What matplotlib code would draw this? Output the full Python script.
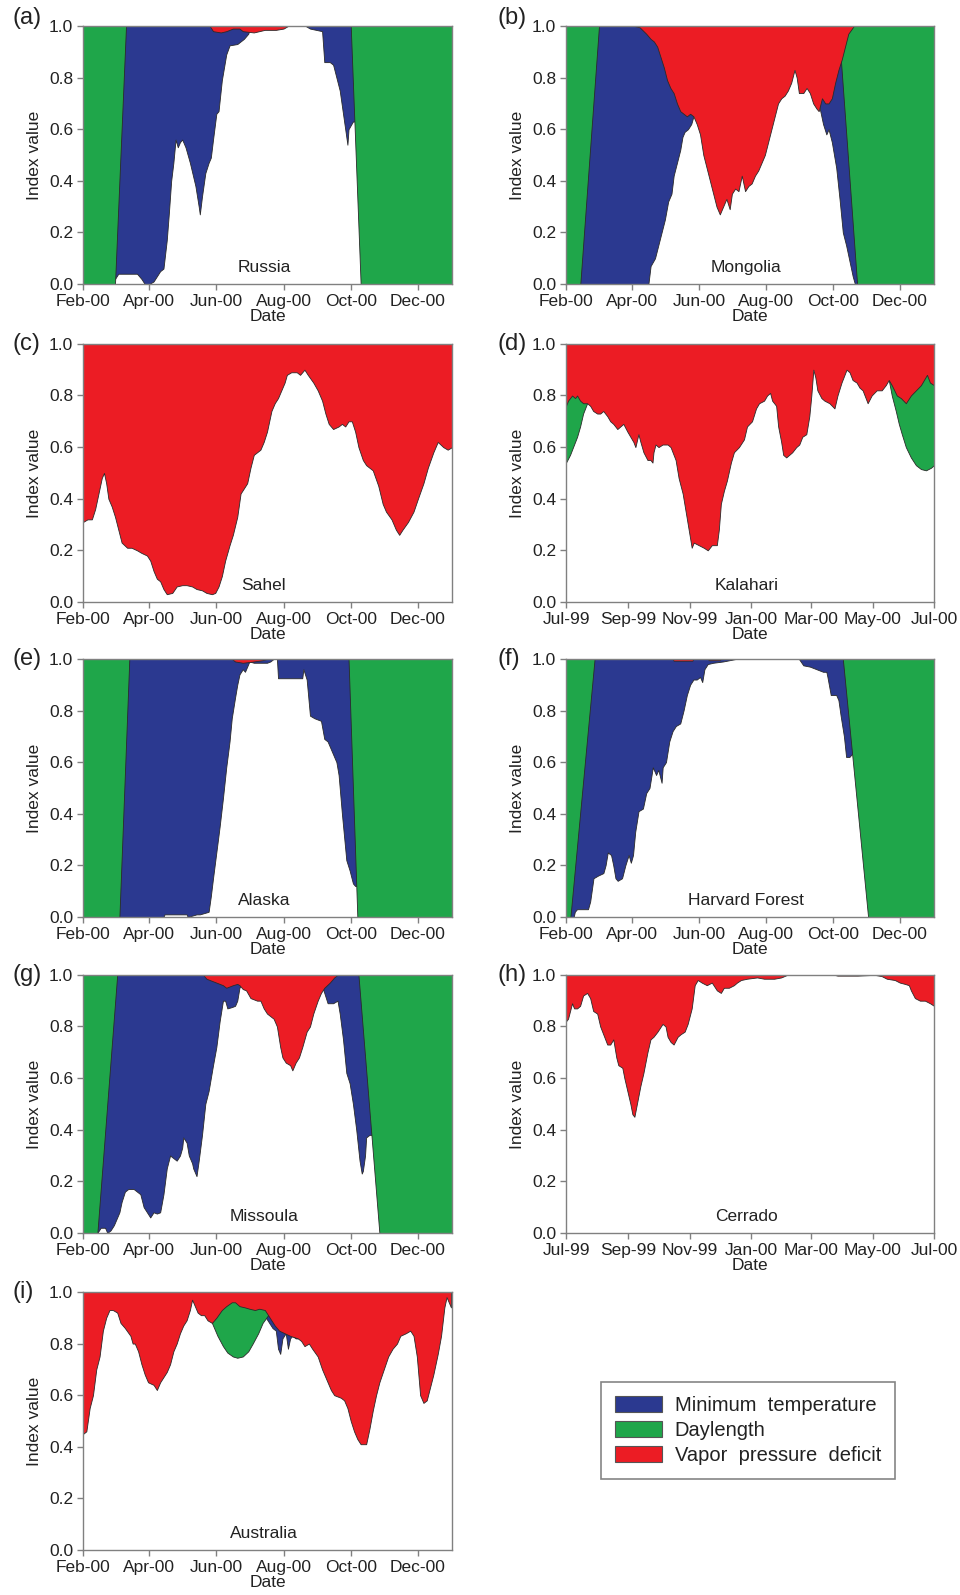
import numpy as np
import matplotlib
matplotlib.use("Agg")
import matplotlib.pyplot as plt
import matplotlib.dates as mdates
from matplotlib.patches import Patch
from matplotlib.ticker import FormatStrFormatter

plt.rcParams.update({
    "font.family": ["Liberation Sans", "DejaVu Sans"],
    "font.size": 12.5,
})

BLUE = "#2b3990"    # minimum temperature
GREEN = "#1fa64a"   # daylength
RED = "#ec1c24"     # vapor pressure deficit
EDGE = "#2a2a2a"
FRAME = "#808080"
TEXT = "#222222"

# ---------------- data: days since panel start, index values ----------------
# (a) Russia, start 2000-02-01
russia_tmin_day = [0, 29, 32, 49, 53, 56, 60, 64, 70, 73, 76, 78, 80, 82, 84, 86, 88, 90, 93, 97,
                   102, 105, 106, 108, 111, 114, 116, 118, 121, 123, 126, 130, 133, 140, 146, 150,
                   152, 185, 202, 206, 217, 219, 224, 227, 233, 238, 240, 241, 245, 335]
russia_tmin = [0, 0.02, 0.04, 0.04, 0.02, 0.0, 0.0, 0.01, 0.05, 0.06, 0.17, 0.28, 0.4, 0.47, 0.56,
               0.53, 0.55, 0.56, 0.53, 0.47, 0.38, 0.3, 0.27, 0.34, 0.43, 0.47, 0.49, 0.56, 0.66,
               0.67, 0.79, 0.89, 0.925, 0.93, 0.95, 0.97, 1.0, 1.0, 1.0, 0.99, 0.98, 0.86, 0.86,
               0.85, 0.75, 0.6, 0.54, 0.6, 0.63, 0.63]
russia_dayl_day = [0, 29, 39, 243, 252, 335]
russia_dayl = [0, 0, 1, 1, 0, 0]
russia_vpd_day = [0, 115, 118, 125, 130, 136, 142, 145, 155, 165, 175, 182, 186, 335]
russia_vpd = [1, 1, 0.98, 0.975, 0.98, 0.99, 0.99, 0.98, 0.975, 0.985, 0.985, 0.99, 1, 1]

# (b) Mongolia, start 2000-02-01
mongolia_tmin_day = [0, 75, 77, 81, 84, 87, 90, 93, 96, 98, 101, 104, 106, 108, 111, 114, 116, 125,
                     134, 149, 164, 210, 219, 225, 230, 234, 237, 239, 242, 246, 249, 252, 255,
                     258, 261, 263, 335]
mongolia_tmin = [0, 0, 0.07, 0.1, 0.15, 0.2, 0.25, 0.32, 0.35, 0.42, 0.47, 0.52, 0.57, 0.59, 0.6,
                 0.62, 0.65, 0.72, 0.85, 0.95, 1.0, 1.0, 0.9, 0.8, 0.7, 0.62, 0.58, 0.6, 0.55,
                 0.45, 0.33, 0.2, 0.15, 0.09, 0.03, 0, 0]
mongolia_dayl_day = [0, 13, 30, 248, 265, 335]
mongolia_dayl = [0, 0, 1, 1, 0, 0]
mongolia_vpd_day = [0, 62, 67, 73, 77, 80, 83, 86, 89, 92, 95, 98, 101, 104, 107, 110, 113, 116,
                    119, 122, 125, 128, 131, 134, 137, 140, 143, 146, 149, 151, 154, 157, 160, 163,
                    166, 169, 172, 175, 178, 181, 184, 187, 190, 193, 196, 199, 202, 205, 208, 210,
                    212, 216, 219, 222, 225, 228, 230, 233, 236, 239, 242, 245, 248, 251, 254, 257,
                    262, 335]
mongolia_vpd = [1, 1, 0.995, 0.97, 0.95, 0.94, 0.92, 0.88, 0.84, 0.79, 0.76, 0.74, 0.7, 0.67, 0.66,
                0.65, 0.66, 0.65, 0.62, 0.58, 0.5, 0.45, 0.4, 0.35, 0.3, 0.27, 0.3, 0.33, 0.29,
                0.35, 0.37, 0.36, 0.42, 0.36, 0.38, 0.39, 0.42, 0.44, 0.47, 0.5, 0.55, 0.6, 0.65,
                0.7, 0.72, 0.73, 0.75, 0.78, 0.83, 0.8, 0.74, 0.74, 0.76, 0.74, 0.7, 0.68, 0.67,
                0.72, 0.7, 0.7, 0.72, 0.78, 0.83, 0.87, 0.92, 0.97, 1.0, 1.0]

# (c) Sahel, start 2000-02-01
sahel_vpd_day = [0, 4, 8, 11, 14, 17, 19, 21, 23, 26, 29, 32, 35, 40, 44, 49, 53, 58, 61, 64, 67,
                 70, 73, 76, 81, 85, 90, 94, 99, 103, 108, 112, 117, 120, 123, 126, 129, 133, 136,
                 140, 143, 146, 149, 152, 155, 158, 161, 164, 167, 171, 174, 177, 180, 183, 185,
                 189, 194, 197, 201, 204, 209, 213, 217, 220, 223, 227, 232, 235, 238, 241, 244,
                 247, 250, 254, 257, 263, 268, 272, 275, 280, 284, 287, 290, 295, 300, 304, 309,
                 313, 318, 322, 327, 331, 335]
sahel_vpd = [0.31, 0.32, 0.32, 0.36, 0.42, 0.48, 0.5, 0.46, 0.4, 0.37, 0.33, 0.28, 0.23, 0.21,
             0.21, 0.2, 0.19, 0.18, 0.16, 0.12, 0.09, 0.08, 0.05, 0.03, 0.035, 0.06, 0.065, 0.065,
             0.06, 0.05, 0.045, 0.035, 0.03, 0.035, 0.06, 0.1, 0.16, 0.22, 0.26, 0.33, 0.42, 0.44,
             0.46, 0.52, 0.57, 0.58, 0.59, 0.62, 0.66, 0.74, 0.77, 0.79, 0.82, 0.85, 0.88, 0.89,
             0.89, 0.88, 0.9, 0.88, 0.85, 0.82, 0.78, 0.73, 0.69, 0.67, 0.68, 0.69, 0.68, 0.7,
             0.7, 0.66, 0.6, 0.55, 0.53, 0.51, 0.45, 0.38, 0.35, 0.32, 0.28, 0.26, 0.28, 0.31,
             0.35, 0.4, 0.46, 0.52, 0.58, 0.62, 0.6, 0.59, 0.6]

# (d) Kalahari, start 1999-07-01
kalahari_dayl_day = [0, 4, 7, 11, 14, 17, 21, 24, 30, 40, 290, 305, 314, 321, 324, 328, 331, 334,
                     338, 343, 348, 353, 358, 363, 366]
kalahari_dayl = [0.54, 0.57, 0.6, 0.64, 0.68, 0.73, 0.77, 0.82, 0.9, 1.0, 1.0, 0.97, 0.92, 0.86,
                 0.8, 0.74, 0.69, 0.65, 0.6, 0.56, 0.53, 0.515, 0.51, 0.52, 0.53]
kalahari_vpd_day = [0, 2, 6, 9, 11, 14, 17, 21, 24, 27, 31, 34, 37, 41, 44, 47, 51, 54, 57, 61,
                    64, 67, 69, 72, 74, 77, 81, 84, 86, 87, 89, 92, 96, 101, 104, 107, 109, 112,
                    116, 119, 122, 125, 127, 132, 137, 141, 145, 150, 152, 154, 157, 160, 164, 167,
                    172, 177, 180, 185, 189, 192, 197, 200, 203, 205, 209, 211, 214, 216, 219, 222,
                    225, 229, 232, 235, 239, 242, 244, 246, 248, 250, 254, 257, 262, 267, 270, 274,
                    279, 282, 285, 289, 292, 295, 300, 304, 309, 314, 318, 321, 324, 329, 333, 338,
                    343, 348, 353, 359, 362, 366]
kalahari_vpd = [0.76, 0.78, 0.8, 0.79, 0.8, 0.78, 0.77, 0.77, 0.76, 0.74, 0.73, 0.73, 0.74, 0.72,
                0.7, 0.69, 0.67, 0.68, 0.69, 0.66, 0.64, 0.62, 0.6, 0.65, 0.62, 0.58, 0.55, 0.55,
                0.54, 0.58, 0.61, 0.6, 0.61, 0.61, 0.6, 0.57, 0.55, 0.48, 0.42, 0.35, 0.28, 0.21,
                0.23, 0.22, 0.21, 0.2, 0.22, 0.22, 0.28, 0.38, 0.43, 0.47, 0.54, 0.58, 0.6, 0.63,
                0.68, 0.7, 0.75, 0.77, 0.78, 0.8, 0.81, 0.78, 0.76, 0.68, 0.62, 0.57, 0.56, 0.57,
                0.58, 0.6, 0.61, 0.64, 0.65, 0.72, 0.8, 0.9, 0.87, 0.82, 0.79, 0.78, 0.77, 0.75,
                0.8, 0.85, 0.9, 0.89, 0.86, 0.85, 0.83, 0.82, 0.77, 0.8, 0.82, 0.82, 0.84, 0.86,
                0.84, 0.8, 0.79, 0.77, 0.8, 0.82, 0.84, 0.88, 0.85, 0.84]

# (e) Alaska, start 2000-02-01
alaska_tmin_day = [0, 73, 74, 94, 95, 103, 106, 114, 116, 118, 121, 124, 127, 130, 133, 135, 138,
                   140, 142, 145, 147, 148, 150, 151, 155, 167, 170, 173, 176, 177, 199, 200, 203,
                   206, 210, 216, 219, 222, 225, 230, 232, 235, 239, 242, 245, 247, 335]
alaska_tmin = [0, 0, 0.01, 0.01, 0, 0.01, 0.01, 0.02, 0.08, 0.15, 0.25, 0.35, 0.46, 0.58, 0.68,
               0.77, 0.85, 0.9, 0.94, 0.96, 0.95, 0.96, 0.98, 0.99, 0.985, 0.985, 0.99, 1.0, 1.0,
               0.925, 0.925, 0.96, 0.92, 0.78, 0.77, 0.76, 0.69, 0.68, 0.65, 0.6, 0.55, 0.4, 0.22,
               0.18, 0.13, 0.12, 0.12]
alaska_dayl_day = [0, 33, 42, 241, 249, 335]
alaska_dayl = [0, 0, 1, 1, 0, 0]
alaska_vpd_day = [0, 135, 138, 145, 155, 163, 167, 335]
alaska_vpd = [1, 1, 0.99, 0.985, 0.99, 0.995, 1, 1]

# (f) Harvard Forest, start 2000-02-01
harvard_tmin_day = [0, 4, 7, 8, 10, 20, 22, 25, 29, 34, 36, 38, 41, 43, 45, 47, 51, 54, 57, 59,
                    61, 63, 66, 70, 73, 76, 79, 82, 84, 87, 88, 91, 94, 97, 100, 104, 107, 110,
                    113, 116, 119, 122, 124, 126, 129, 134, 143, 149, 155, 212, 216, 222, 228, 234,
                    237, 238, 241, 246, 248, 250, 253, 255, 258, 260, 335]
harvard_tmin = [0, 0, 0, 0.02, 0.03, 0.03, 0.06, 0.15, 0.16, 0.17, 0.2, 0.25, 0.24, 0.2, 0.15,
                0.14, 0.15, 0.2, 0.24, 0.21, 0.24, 0.33, 0.41, 0.42, 0.48, 0.5, 0.58, 0.55, 0.57,
                0.52, 0.58, 0.6, 0.68, 0.72, 0.74, 0.75, 0.8, 0.86, 0.9, 0.92, 0.92, 0.93, 0.91,
                0.96, 0.98, 0.985, 0.99, 0.995, 1.0, 1.0, 0.975, 0.97, 0.96, 0.95, 0.95, 0.93,
                0.86, 0.86, 0.84, 0.78, 0.7, 0.62, 0.62, 0.63, 0.63]
harvard_dayl_day = [0, 4, 26, 252, 275, 335]
harvard_dayl = [0, 0, 1, 1, 0, 0]
harvard_vpd_day = [0, 97, 98, 115, 116, 129, 130, 140, 141, 335]
harvard_vpd = [1, 1, 0.993, 0.993, 1, 1, 0.995, 0.995, 1, 1]

# (g) Missoula, start 2000-02-01
missoula_tmin_day = [0, 13, 16, 20, 22, 25, 28, 31, 33, 35, 38, 41, 46, 49, 52, 55, 58, 61, 64, 67,
                     70, 73, 76, 79, 82, 85, 88, 90, 91, 94, 96, 99, 100, 103, 105, 108, 111, 114,
                     118, 121, 124, 127, 129, 131, 135, 138, 140, 142, 146, 152, 212, 216, 219,
                     222, 227, 231, 233, 236, 239, 242, 245, 248, 251, 253, 254, 256, 257, 260, 335]
missoula_tmin = [0, 0, 0.02, 0.02, 0, 0.01, 0.03, 0.06, 0.08, 0.12, 0.16, 0.17, 0.17, 0.16, 0.15,
                 0.1, 0.08, 0.06, 0.08, 0.075, 0.08, 0.15, 0.25, 0.3, 0.29, 0.28, 0.3, 0.33, 0.37,
                 0.35, 0.3, 0.27, 0.25, 0.22, 0.28, 0.38, 0.5, 0.55, 0.65, 0.72, 0.82, 0.9, 0.9,
                 0.87, 0.875, 0.88, 0.9, 0.95, 0.98, 1.0, 1.0, 0.97, 0.93, 0.89, 0.89, 0.9, 0.85,
                 0.75, 0.62, 0.58, 0.5, 0.4, 0.28, 0.23, 0.24, 0.3, 0.37, 0.38, 0.38]
missoula_dayl_day = [0, 13, 31, 250, 269, 335]
missoula_dayl = [0, 0, 1, 1, 0, 0]
missoula_vpd_day = [0, 109, 112, 118, 124, 127, 130, 133, 136, 140, 142, 145, 148, 152, 158, 161,
                    164, 167, 170, 173, 176, 179, 181, 184, 188, 190, 193, 196, 199, 203, 206, 209,
                    213, 216, 219, 224, 228, 231, 335]
missoula_vpd = [1, 1, 0.985, 0.975, 0.965, 0.96, 0.95, 0.955, 0.96, 0.965, 0.96, 0.945, 0.94, 0.91,
                0.9, 0.9, 0.87, 0.85, 0.84, 0.83, 0.8, 0.72, 0.68, 0.66, 0.65, 0.63, 0.66, 0.68,
                0.72, 0.78, 0.8, 0.85, 0.9, 0.93, 0.95, 0.97, 0.99, 1.0, 1.0]

# (h) Cerrado, start 1999-07-01
cerrado_vpd_day = [0, 2, 6, 8, 11, 14, 17, 21, 24, 27, 31, 34, 37, 41, 44, 47, 50, 52, 56, 58, 61,
                   64, 66, 68, 71, 74, 77, 81, 84, 87, 91, 96, 99, 101, 104, 107, 111, 114, 118,
                   121, 125, 128, 131, 135, 140, 145, 150, 154, 157, 162, 167, 170, 174, 180, 190,
                   197, 207, 214, 220, 267, 270, 290, 307, 314, 319, 327, 332, 337, 341, 343, 347,
                   352, 357, 362, 366]
cerrado_vpd = [0.82, 0.83, 0.89, 0.87, 0.87, 0.88, 0.92, 0.93, 0.91, 0.86, 0.85, 0.8, 0.77, 0.73,
               0.73, 0.75, 0.68, 0.65, 0.64, 0.6, 0.55, 0.5, 0.46, 0.45, 0.51, 0.57, 0.62, 0.7,
               0.75, 0.76, 0.78, 0.81, 0.8, 0.76, 0.74, 0.73, 0.76, 0.77, 0.78, 0.81, 0.87, 0.96,
               0.98, 0.97, 0.96, 0.97, 0.94, 0.93, 0.95, 0.95, 0.96, 0.97, 0.98, 0.985, 0.99,
               0.985, 0.985, 0.99, 1.0, 1.0, 0.997, 0.997, 1.0, 0.995, 0.985, 0.98, 0.97, 0.965,
               0.96, 0.94, 0.91, 0.9, 0.9, 0.89, 0.88]

# (i) Australia, start 2000-02-01
australia_tmin_day = [0, 161, 165, 166, 169, 172, 175, 177, 179, 181, 184, 186, 188, 190, 193, 195,
                      198, 204, 334]
australia_tmin = [1, 1, 0.93, 0.9, 0.88, 0.86, 0.85, 0.78, 0.76, 0.82, 0.84, 0.78, 0.82, 0.83,
                  0.82, 0.82, 0.85, 1.0, 1.0]
australia_dayl_day = [0, 101, 107, 117, 122, 127, 131, 136, 140, 145, 150, 154, 159, 163, 168, 174,
                      183, 334]
australia_dayl = [1, 1, 0.97, 0.88, 0.83, 0.79, 0.765, 0.75, 0.745, 0.75, 0.77, 0.8, 0.84, 0.88,
                  0.91, 0.95, 1.0, 1.0]
australia_vpd_day = [0, 3, 6, 9, 12, 15, 18, 21, 24, 27, 31, 34, 38, 43, 45, 47, 50, 53, 56, 59,
                     64, 67, 70, 73, 76, 79, 82, 85, 88, 91, 94, 97, 99, 101, 104, 107, 110, 113,
                     117, 121, 126, 130, 135, 138, 142, 147, 151, 156, 160, 165, 168, 171, 174,
                     178, 183, 188, 195, 198, 201, 205, 208, 213, 217, 222, 225, 228, 234, 237,
                     240, 243, 246, 249, 252, 257, 260, 263, 266, 269, 273, 277, 281, 285, 288,
                     293, 297, 300, 303, 306, 309, 312, 315, 318, 322, 325, 328, 330, 332, 334]
australia_vpd = [0.45, 0.46, 0.55, 0.6, 0.7, 0.75, 0.85, 0.9, 0.93, 0.93, 0.92, 0.88, 0.86, 0.83,
                 0.8, 0.8, 0.77, 0.72, 0.68, 0.65, 0.64, 0.62, 0.65, 0.67, 0.69, 0.72, 0.77, 0.8,
                 0.84, 0.87, 0.89, 0.93, 0.97, 0.95, 0.92, 0.91, 0.91, 0.89, 0.88, 0.9, 0.93,
                 0.945, 0.96, 0.96, 0.945, 0.94, 0.935, 0.93, 0.935, 0.93, 0.91, 0.89, 0.87, 0.85,
                 0.84, 0.83, 0.82, 0.81, 0.79, 0.8, 0.78, 0.75, 0.7, 0.65, 0.62, 0.6, 0.59, 0.58,
                 0.55, 0.5, 0.46, 0.43, 0.41, 0.41, 0.47, 0.54, 0.6, 0.65, 0.7, 0.75, 0.78, 0.8,
                 0.83, 0.84, 0.85, 0.83, 0.75, 0.6, 0.57, 0.58, 0.63, 0.68, 0.76, 0.83, 0.94, 0.98,
                 0.96, 0.94]

# ---------------- panel definitions ----------------
CAL = ("2000-02-01", "2001-01-01", [2, 4, 6, 8, 10, 12])
SOUTH = ("1999-07-01", "2000-07-01", [1, 3, 5, 7, 9, 11])

panels = [
    ("(a)", "Russia", 0, 0, CAL, (russia_tmin_day, russia_tmin),
     (russia_dayl_day, russia_dayl), (russia_vpd_day, russia_vpd)),
    ("(b)", "Mongolia", 0, 1, CAL, (mongolia_tmin_day, mongolia_tmin),
     (mongolia_dayl_day, mongolia_dayl), (mongolia_vpd_day, mongolia_vpd)),
    ("(c)", "Sahel", 1, 0, CAL, None, None, (sahel_vpd_day, sahel_vpd)),
    ("(d)", "Kalahari", 1, 1, SOUTH, None, (kalahari_dayl_day, kalahari_dayl),
     (kalahari_vpd_day, kalahari_vpd)),
    ("(e)", "Alaska", 2, 0, CAL, (alaska_tmin_day, alaska_tmin),
     (alaska_dayl_day, alaska_dayl), (alaska_vpd_day, alaska_vpd)),
    ("(f)", "Harvard Forest", 2, 1, CAL, (harvard_tmin_day, harvard_tmin),
     (harvard_dayl_day, harvard_dayl), (harvard_vpd_day, harvard_vpd)),
    ("(g)", "Missoula", 3, 0, CAL, (missoula_tmin_day, missoula_tmin),
     (missoula_dayl_day, missoula_dayl), (missoula_vpd_day, missoula_vpd)),
    ("(h)", "Cerrado", 3, 1, SOUTH, None, None, (cerrado_vpd_day, cerrado_vpd)),
    ("(i)", "Australia", 4, 0, CAL, (australia_tmin_day, australia_tmin),
     (australia_dayl_day, australia_dayl), (australia_vpd_day, australia_vpd)),
]

fig = plt.figure(figsize=(9.6, 15.95), dpi=100)
COL_X = [0.0865, 0.5896]
COL_W = [0.3844, 0.3833]
ROW_Y = [0.8219, 0.6226, 0.4251, 0.2270, 0.0282]
AX_H = 0.1618

for letter, site, r, c, (t0, t1, months), tmin, dayl, vpd in panels:
    ax = fig.add_axes([COL_X[c], ROW_Y[r], COL_W[c], AX_H])
    x0 = mdates.datestr2num(t0)
    # layered fills: blue under green under red, each from its index up to 1
    for series, color in ((tmin, BLUE), (dayl, GREEN), (vpd, RED)):
        if series is None:
            continue
        d, v = series
        ax.fill_between(x0 + np.asarray(d, float), v, 1.0, facecolor=color,
                        edgecolor=EDGE, linewidth=0.6)
    ax.set_xlim(x0, mdates.datestr2num(t1))
    ax.set_ylim(0, 1)
    ax.set_yticks(np.arange(0, 1.01, 0.2))
    ax.yaxis.set_major_formatter(FormatStrFormatter("%.1f"))
    ax.xaxis.set_major_locator(mdates.MonthLocator(bymonth=months))
    ax.xaxis.set_major_formatter(mdates.DateFormatter("%b-%y"))
    for sp in ax.spines.values():
        sp.set_color(FRAME)
        sp.set_linewidth(1.0)
    ax.tick_params(direction="out", length=4.5, width=1, color=FRAME,
                   labelcolor=TEXT, labelsize=12.5, pad=2.5)
    ax.set_xlabel("Date", fontsize=12.5, color=TEXT, labelpad=0)
    ax.set_ylabel("Index value", fontsize=12.5, color=TEXT, labelpad=5)
    ax.text(0.49, 0.065, site, transform=ax.transAxes, ha="center", va="center",
            fontsize=12.5, color=TEXT)
    ly = 1.03 if r == 0 else 1.0
    lx = -0.19 if c == 0 else -0.185
    ax.text(lx, ly, letter, transform=ax.transAxes, ha="left", va="center",
            fontsize=17, color=TEXT)

handles = [Patch(facecolor=BLUE, edgecolor="#555555", linewidth=0.8),
           Patch(facecolor=GREEN, edgecolor="#555555", linewidth=0.8),
           Patch(facecolor=RED, edgecolor="#555555", linewidth=0.8)]
labels = ["Minimum  temperature", "Daylength", "Vapor  pressure  deficit"]
leg = fig.legend(handles, labels, loc="upper left", bbox_to_anchor=(601 / 960, 1 - 1382 / 1595),
                 borderaxespad=0, fontsize=14.5, frameon=True, fancybox=False,
                 borderpad=0.7, labelspacing=0.3, handlelength=2.35, handleheight=0.8,
                 handletextpad=0.6)
leg.get_frame().set_edgecolor("#666666")
leg.get_frame().set_linewidth(1.2)
for t in leg.get_texts():
    t.set_color(TEXT)

fig.savefig("out.png", dpi=100, facecolor="white")
